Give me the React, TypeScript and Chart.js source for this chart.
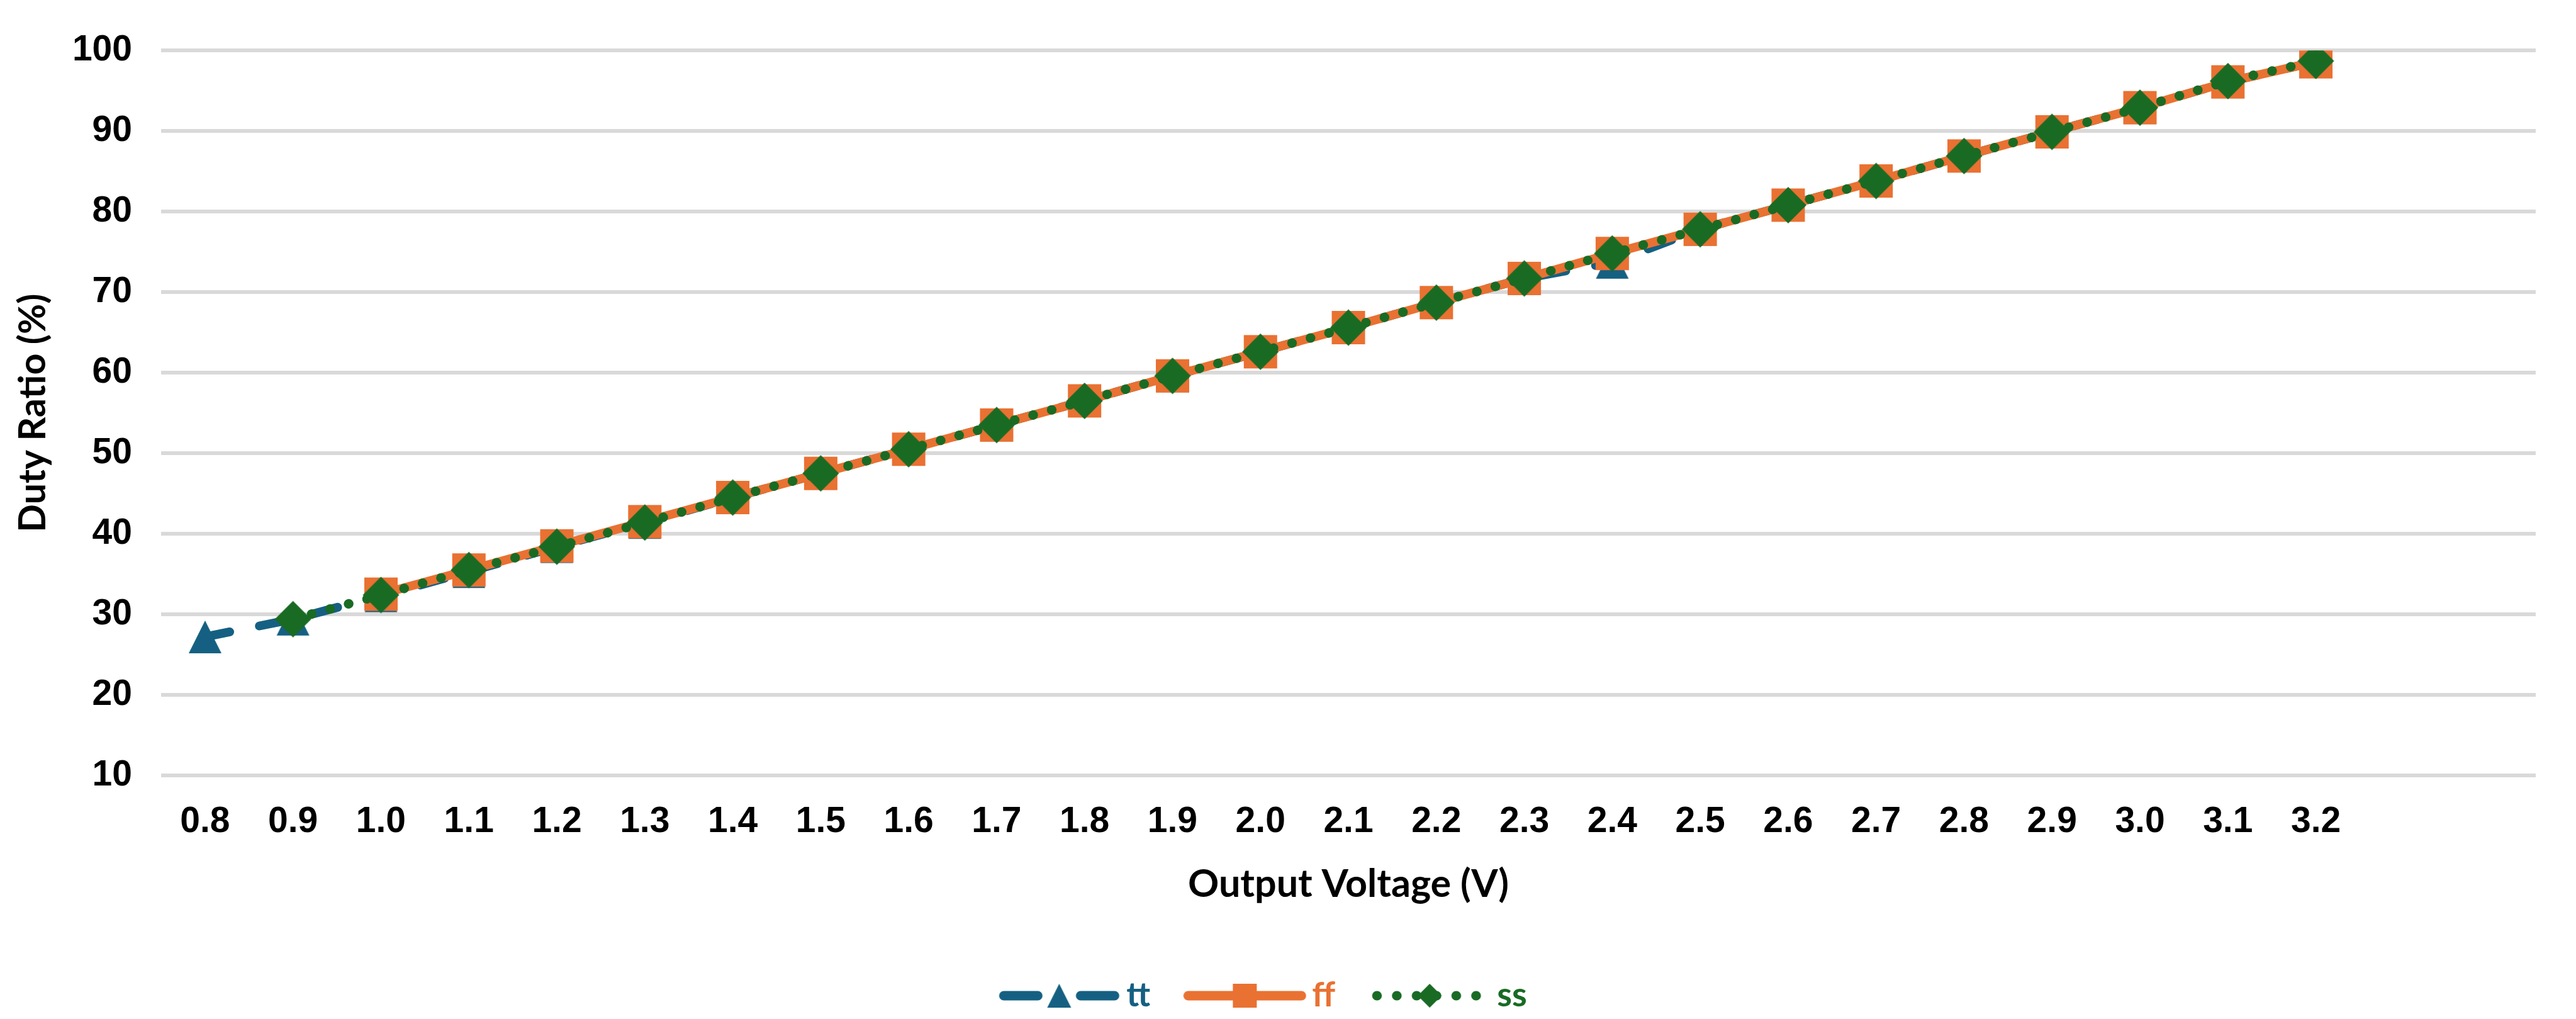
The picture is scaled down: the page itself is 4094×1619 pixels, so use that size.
import React, { useEffect, useRef } from 'react';
import { Chart, registerables } from 'chart.js';

Chart.register(...registerables);

// ---- data ----
const xLabels = ['0.8', '0.9', '1.0', '1.1', '1.2', '1.3', '1.4', '1.5', '1.6', '1.7', '1.8', '1.9', '2.0', '2.1', '2.2', '2.3', '2.4', '2.5', '2.6', '2.7', '2.8', '2.9', '3.0', '3.1', '3.2', '', ''];
const ttValues = [27.2, 29.4, 32.3, 35.3, 38.4, 41.4, 44.5, 47.5, 50.5, 53.5, 56.5, 59.6, 62.6, 65.6, 68.7, 71.7, 73.7, 77.8, 80.8, 83.8, 86.9, 89.9, 92.9, 96.1, 98.6];
const ffValues = [null, null, 32.5, 35.5, 38.5, 41.5, 44.5, 47.5, 50.5, 53.5, 56.5, 59.6, 62.6, 65.6, 68.7, 71.7, 74.8, 77.8, 80.8, 83.8, 86.9, 89.9, 92.9, 96.1, 98.6];
const ssValues = [null, 29.4, 32.4, 35.5, 38.4, 41.4, 44.5, 47.5, 50.5, 53.5, 56.5, 59.6, 62.6, 65.6, 68.7, 71.7, 74.8, 77.8, 80.8, 83.8, 86.9, 89.9, 92.9, 96.2, 98.7];
const seriesNames = ['tt', 'ff', 'ss'];
const yTicks = [10, 20, 30, 40, 50, 60, 70, 80, 90, 100];

const BLUE = '#156082';
const ORANGE = '#E97132';
const GREEN = '#196B24';

function mk(w: number, h: number) {
  const c = document.createElement('canvas');
  c.width = w;
  c.height = h;
  return c;
}

function drawTri(ctx: CanvasRenderingContext2D, cx: number, cy: number, s: number, color: string) {
  ctx.fillStyle = color;
  ctx.beginPath();
  ctx.moveTo(cx, cy - s / 2);
  ctx.lineTo(cx + s / 2, cy + s / 2);
  ctx.lineTo(cx - s / 2, cy + s / 2);
  ctx.closePath();
  ctx.fill();
}
function drawSq(ctx: CanvasRenderingContext2D, cx: number, cy: number, s: number, color: string) {
  ctx.fillStyle = color;
  ctx.fillRect(cx - s / 2, cy - s / 2, s, s);
}
function drawDia(ctx: CanvasRenderingContext2D, cx: number, cy: number, s: number, color: string) {
  ctx.fillStyle = color;
  ctx.beginPath();
  ctx.moveTo(cx, cy - s / 2);
  ctx.lineTo(cx + s / 2, cy);
  ctx.lineTo(cx, cy + s / 2);
  ctx.lineTo(cx - s / 2, cy);
  ctx.closePath();
  ctx.fill();
}

function markerImg(kind: string, s: number, color: string) {
  const c = mk(s + 2, s + 2);
  const ctx = c.getContext('2d')!;
  const m = (s + 2) / 2;
  if (kind === 'tri') drawTri(ctx, m, m, s, color);
  if (kind === 'sq') drawSq(ctx, m, m, s, color);
  if (kind === 'dia') drawDia(ctx, m, m, s, color);
  return c;
}

function legendImg(kind: string, color: string) {
  const W = 196, H = 44;
  const c = mk(W, H);
  const ctx = c.getContext('2d')!;
  const cy = H / 2;
  ctx.strokeStyle = color;
  ctx.lineWidth = 15;
  ctx.lineCap = 'round';
  if (kind === 'tri') {
    ctx.beginPath();
    ctx.moveTo(10, cy); ctx.lineTo(64, cy);
    ctx.moveTo(132, cy); ctx.lineTo(186, cy);
    ctx.stroke();
    drawTri(ctx, W / 2, cy, 38, color);
  } else if (kind === 'sq') {
    ctx.beginPath();
    ctx.moveTo(8, cy); ctx.lineTo(188, cy);
    ctx.stroke();
    drawSq(ctx, W / 2, cy, 38, color);
  } else {
    ctx.setLineDash([0.5, 31]);
    ctx.beginPath();
    ctx.moveTo(14, cy); ctx.lineTo(186, cy);
    ctx.stroke();
    ctx.setLineDash([]);
    drawDia(ctx, W / 2, cy, 38, color);
  }
  return c;
}

export default function App() {
  const ref = useRef<HTMLCanvasElement | null>(null);
  useEffect(() => {
    document.body.style.margin = '0';
    const canvas = ref.current!;
    const colors = [BLUE, ORANGE, GREEN];
    const legendImgs = [legendImg('tri', BLUE), legendImg('sq', ORANGE), legendImg('dia', GREEN)];
    const chart = new Chart(canvas, {
      type: 'line',
      data: {
        labels: xLabels,
        datasets: [
          {
            label: seriesNames[0],
            data: ttValues,
            borderColor: BLUE,
            backgroundColor: BLUE,
            borderWidth: 14,
            borderDash: [40, 48],
            borderCapStyle: 'round',
            borderJoinStyle: 'round',
            pointStyle: markerImg('tri', 52, BLUE),
            pointRadius: 20,
            tension: 0,
            order: 3,
          },
          {
            label: seriesNames[1],
            data: ffValues,
            borderColor: ORANGE,
            backgroundColor: ORANGE,
            borderWidth: 14,
            borderCapStyle: 'round',
            borderJoinStyle: 'round',
            pointStyle: markerImg('sq', 53, ORANGE),
            pointRadius: 20,
            tension: 0,
            order: 2,
          },
          {
            label: seriesNames[2],
            data: ssValues,
            borderColor: GREEN,
            backgroundColor: GREEN,
            borderWidth: 15,
            borderDash: [0.5, 30],
            borderCapStyle: 'round',
            borderJoinStyle: 'round',
            pointStyle: markerImg('dia', 58, GREEN),
            pointRadius: 20,
            tension: 0,
            order: 1,
          },
        ],
      },
      options: {
        animation: false,
        responsive: false,
        devicePixelRatio: 1,
        events: [],
        layout: { padding: { top: 68, right: 64, left: 0, bottom: 0 } },
        plugins: {
          tooltip: { enabled: false },
          legend: {
            position: 'bottom',
            labels: {
              usePointStyle: true,
              pointStyleWidth: 160,
              padding: 70,
              font: { family: 'Lato, sans-serif', weight: 'bold', size: 54 },
              generateLabels: (ch: any) =>
                ch.data.datasets.map((ds: any, i: number) => ({
                  text: ds.label,
                  fontColor: colors[i],
                  pointStyle: legendImgs[i],
                  datasetIndex: i,
                  hidden: false,
                  lineWidth: 0,
                  strokeStyle: 'rgba(0,0,0,0)',
                  fillStyle: 'rgba(0,0,0,0)',
                })),
            },
          },
        },
        scales: {
          x: {
            type: 'category',
            offset: true,
            grid: { display: false, drawTicks: false },
            border: { display: false },
            ticks: {
              autoSkip: false,
              maxRotation: 0,
              minRotation: 0,
              padding: 40,
              color: '#000',
              font: { family: "'Liberation Sans', Arial, sans-serif", weight: 'bold', size: 57 },
            },
            title: {
              display: true,
              text: 'Output Voltage (V)',
              color: '#000',
              font: { family: 'Lato, sans-serif', weight: 'bold', size: 61 },
              padding: { top: 0, bottom: 43 },
            },
            afterFit: (s: any) => { s.height = 253; },
          },
          y: {
            min: 10,
            max: 100,
            afterBuildTicks: (s: any) => { s.ticks = yTicks.map((v) => ({ value: v })); },
            grid: { color: '#D9D9D9', lineWidth: 6, drawTicks: false },
            border: { display: false },
            ticks: {
              padding: 46,
              color: '#000',
              font: { family: "'Liberation Sans', Arial, sans-serif", weight: 'bold', size: 57 },
            },
            title: {
              display: true,
              text: 'Duty Ratio (%)',
              color: '#000',
              font: { family: 'Lato, sans-serif', weight: 'bold', size: 59 },
              padding: { top: 18, bottom: 0 },
            },
            afterFit: (s: any) => { s.width = 256; },
          },
        },
      } as any,
    });
    return () => chart.destroy();
  }, []);
  return (
    <div style={{ position: 'fixed', left: 0, top: 0, width: 4094, height: 1619, background: '#fff' }}>
      <canvas ref={ref} width={4094} height={1619} style={{ display: 'block', width: 4094, height: 1619 }} />
    </div>
  );
}
